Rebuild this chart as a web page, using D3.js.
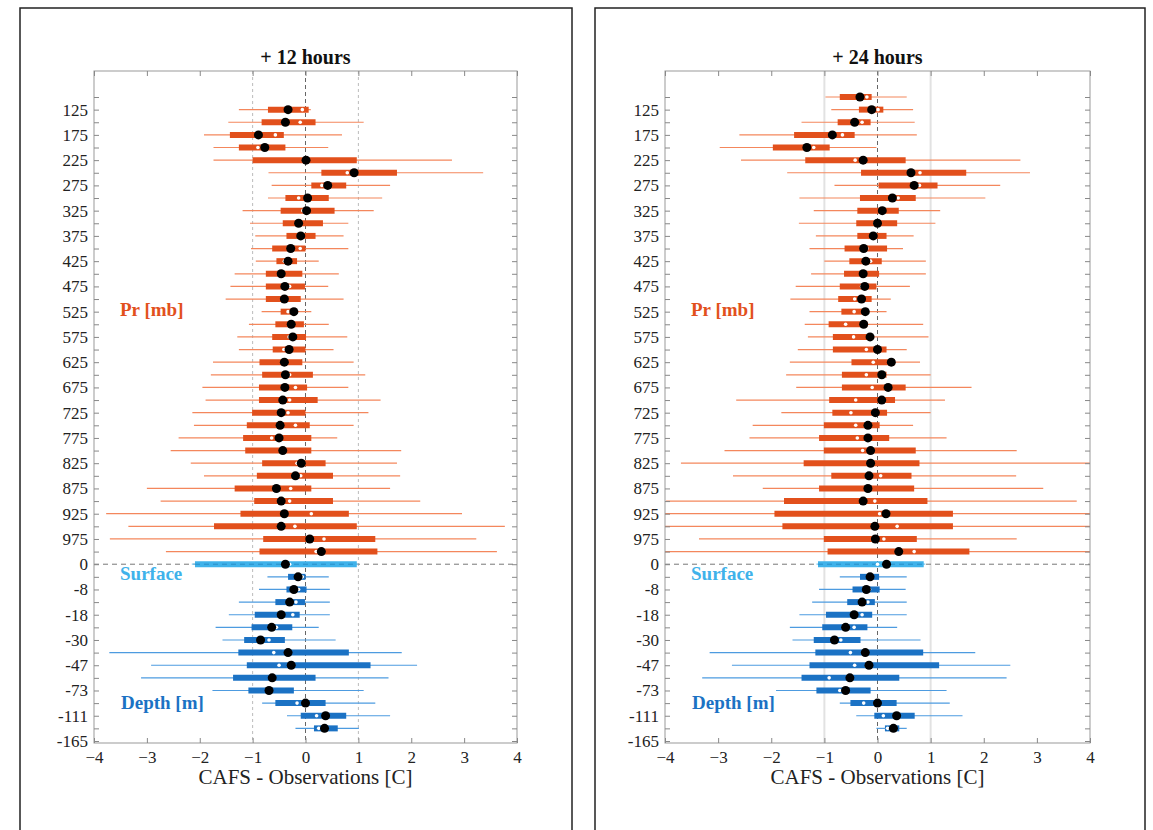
<!DOCTYPE html>
<html>
<head>
<meta charset="utf-8">
<script src="https://cdn.jsdelivr.net/npm/d3@7"></script>
<style>
  body { margin: 0; background: #fff; }
  svg text { font-family: "Liberation Serif", "Times New Roman", Times, "DejaVu Serif", serif !important; }
</style>
</head>
<body>
<div id="chart"></div>
<script>
// levels, top to bottom: pressure (mb), surface, depth (m)
const levels = ["100","125","150","175","200","225","250","275","300","325","350","375","400",
  "425","450","475","500","525","550","575","600","625","650","675","700","725","750","775",
  "800","825","850","875","900","925","950","975","1000",
  "0","-3","-8","-13","-18","-24","-30","-38","-47","-58","-73","-90","-111","-135","-165"];
const groups = levels.map((d, i) => i < 37 ? "pr" : (i === 37 ? "surf" : "depth"));

// + 12 hours: whisker low/high, box low/high, black dot, white dot
const h12Lo  = [null,-1.26,-1.46,-1.92,-1.74,-1.74,-0.70,-0.64,-0.71,-1.19,-1.05,-0.95,-1.03,-0.94,-1.34,-1.42,-1.51,-0.83,-1.07,-1.29,-1.26,-1.75,-1.79,-1.95,-1.89,-2.14,-2.11,-2.40,-2.55,-2.17,-1.92,-3.00,-2.74,-3.77,-3.35,-3.70,-2.64,-2.15,-0.72,-0.88,-1.26,-1.45,-1.70,-1.57,-3.71,-2.92,-3.11,-1.76,-0.82,-0.35,-0.19,null];
const h12Q1  = [null,-0.71,-0.83,-1.43,-1.26,-1.00,0.30,0.11,-0.38,-0.47,-0.43,-0.36,-0.63,-0.55,-0.75,-0.75,-0.75,-0.47,-0.57,-0.63,-0.62,-0.87,-0.82,-0.88,-0.88,-1.01,-1.11,-1.18,-1.14,-0.82,-0.92,-1.34,-0.97,-1.23,-1.73,-0.80,-0.87,-2.09,-0.33,-0.36,-0.57,-0.96,-1.02,-1.16,-1.27,-1.11,-1.37,-1.08,-0.57,-0.09,0.16,null];
const h12Q3  = [null,0.06,0.19,-0.41,-0.38,0.97,1.73,0.77,0.44,0.55,0.33,0.19,0.00,-0.16,-0.06,-0.01,-0.09,-0.16,-0.03,0.01,0.00,-0.06,0.14,0.03,0.23,0.00,0.08,0.11,0.11,0.38,0.52,0.11,0.52,0.82,0.97,1.32,1.36,0.97,0.00,0.02,-0.01,-0.11,-0.25,-0.39,0.82,1.23,0.19,-0.22,0.38,0.77,0.61,null];
const h12Hi  = [null,0.10,1.10,0.69,0.43,2.77,3.36,1.60,1.45,1.29,0.81,0.72,0.81,0.25,0.63,0.43,0.72,0.11,0.44,0.79,0.53,0.91,1.13,0.81,1.42,1.19,0.91,0.60,1.81,1.73,1.79,1.60,2.17,2.96,3.77,3.23,3.62,1.00,0.44,0.46,0.46,0.46,0.25,0.57,1.82,2.11,1.57,1.10,1.32,1.60,1.01,null];
const h12Dot = [null,-0.33,-0.38,-0.89,-0.77,0.01,0.92,0.42,0.04,0.02,-0.13,-0.09,-0.28,-0.33,-0.46,-0.39,-0.40,-0.22,-0.27,-0.24,-0.31,-0.40,-0.38,-0.39,-0.43,-0.46,-0.48,-0.50,-0.43,-0.08,-0.19,-0.55,-0.46,-0.40,-0.46,0.08,0.30,-0.38,-0.14,-0.22,-0.30,-0.46,-0.64,-0.85,-0.33,-0.27,-0.63,-0.69,0.00,0.38,0.36,null];
const h12Mid = [null,-0.06,-0.10,-0.57,-0.90,0.00,0.79,0.31,-0.13,-0.05,-0.10,-0.12,-0.10,-0.40,-0.50,-0.30,-0.40,-0.33,-0.30,-0.31,-0.41,-0.40,-0.30,-0.19,-0.30,-0.33,-0.19,-0.64,-0.40,-0.16,-0.09,-0.28,-0.30,0.11,-0.20,0.35,0.20,-0.30,-0.06,-0.13,-0.18,-0.24,-0.55,-0.69,-0.60,-0.50,-0.60,-0.70,-0.16,0.21,0.25,null];

// + 24 hours
const h24Lo  = [-0.98,-0.87,-1.43,-2.60,-2.97,-2.57,-1.70,-0.81,-1.47,-1.20,-1.48,-1.16,-1.28,-1.00,-1.25,-1.54,-1.64,-1.28,-1.37,-1.31,-1.50,-1.65,-1.72,-1.53,-2.66,-1.81,-2.35,-2.41,-2.88,-3.70,-2.72,-2.16,-3.98,-4.2,-4.2,-3.36,-4.2,-1.15,-0.71,-1.10,-1.23,-1.47,-1.65,-1.60,-3.16,-2.74,-3.30,-1.91,-0.71,-0.40,-0.02,null];
const h24Q1  = [-0.71,-0.35,-0.75,-1.57,-1.97,-1.36,-0.31,0.02,-0.33,-0.38,-0.40,-0.38,-0.62,-0.53,-0.63,-0.71,-0.74,-0.68,-0.92,-0.84,-0.84,-0.49,-0.67,-0.67,-0.91,-0.85,-1.01,-1.10,-1.01,-1.39,-0.87,-1.10,-1.76,-1.94,-1.79,-1.01,-0.94,-1.12,-0.33,-0.47,-0.57,-0.97,-1.04,-1.20,-1.17,-1.28,-1.43,-1.15,-0.51,-0.06,0.14,null];
const h24Q3  = [-0.11,0.11,-0.13,-0.43,-0.90,0.53,1.67,1.13,0.72,0.40,0.37,0.17,0.18,0.08,0.03,-0.02,-0.11,-0.18,-0.19,-0.13,0.17,0.33,0.17,0.53,0.33,0.18,0.04,0.22,0.72,0.79,0.64,0.69,0.94,1.42,1.42,0.74,1.73,0.87,0.03,0.04,-0.05,-0.10,-0.19,-0.32,0.86,1.16,0.41,-0.13,0.36,0.70,0.41,null];
const h24Hi  = [0.55,0.67,0.70,0.74,-0.02,2.69,2.87,2.31,2.03,1.18,1.09,0.68,0.48,0.91,0.91,0.61,0.25,0.17,0.86,0.96,0.55,0.80,1.00,1.77,1.27,1.00,0.67,1.30,2.62,4.2,2.61,3.12,3.75,4.2,4.2,2.62,4.2,0.90,0.55,0.53,0.55,0.55,0.37,0.81,1.84,2.50,2.43,1.30,1.36,1.60,0.55,null];
const h24Dot = [-0.33,-0.11,-0.43,-0.85,-1.33,-0.27,0.63,0.69,0.28,0.09,0.00,-0.08,-0.26,-0.22,-0.27,-0.24,-0.30,-0.23,-0.26,-0.14,0.00,0.26,0.08,0.20,0.08,-0.04,-0.18,-0.18,-0.13,-0.13,-0.16,-0.18,-0.27,0.16,-0.05,-0.04,0.40,0.17,-0.14,-0.21,-0.29,-0.44,-0.60,-0.81,-0.23,-0.16,-0.52,-0.60,0.00,0.36,0.30,null];
const h24Mid = [-0.20,0.01,-0.29,-0.66,-1.20,-0.42,0.80,0.79,0.39,0.05,-0.05,-0.10,-0.20,-0.13,-0.30,-0.30,-0.43,-0.44,-0.60,-0.45,-0.21,-0.08,-0.21,-0.10,-0.41,-0.50,-0.41,-0.38,-0.28,-0.10,0.06,-0.15,-0.05,0.04,0.37,0.12,0.69,0.00,-0.10,-0.15,-0.18,-0.29,-0.44,-0.69,-0.51,-0.43,-0.91,-0.71,-0.26,0.11,0.19,null];

const xTicks = [-4,-3,-2,-1,0,1,2,3,4];

const barColor  = {pr: "#e2501c", surf: "#3fb2ea", depth: "#1b72c4"};
const lineColor = {pr: "#f4875c", surf: "#7cc8ef", depth: "#4d9be0"};

const svg = d3.select("#chart").append("svg")
  .attr("width", 1153).attr("height", 830);

const panels = [
  {title: "+ 12 hours", frameX: 20, frameW: 552, left: 94, right: 517, solidGrid: false,
   lo: h12Lo, q1: h12Q1, q3: h12Q3, hi: h12Hi, dot: h12Dot, mid: h12Mid},
  {title: "+ 24 hours", frameX: 595, frameW: 550, left: 665, right: 1090, solidGrid: true,
   lo: h24Lo, q1: h24Q1, q3: h24Q3, hi: h24Hi, dot: h24Dot, mid: h24Mid}
];

const plotTop = 71, plotBottom = 743;

panels.forEach(function(p, pi) {
  // outer frame
  svg.append("rect")
    .attr("x", p.frameX).attr("y", 8)
    .attr("width", p.frameW).attr("height", 900)
    .attr("fill", "none").attr("stroke", "#222").attr("stroke-width", 1.5);

  const x = d3.scaleLinear().domain([-4, 4]).range([p.left, p.right]);
  const y = d3.scalePoint().domain(levels).range([97, 741]);

  const g = svg.append("g");

  svg.append("clipPath").attr("id", "clip" + pi)
    .append("rect").attr("x", p.left).attr("y", plotTop)
    .attr("width", p.right - p.left).attr("height", plotBottom - plotTop);

  // grid lines at -1 and 1
  g.selectAll(".grid").data([-1, 1]).join("line")
    .attr("x1", d => x(d)).attr("x2", d => x(d))
    .attr("y1", plotTop).attr("y2", plotBottom)
    .attr("stroke", p.solidGrid ? "#e2e2e2" : "#bbb")
    .attr("stroke-width", p.solidGrid ? 2 : 1)
    .attr("stroke-dasharray", p.solidGrid ? null : "3,3");

  // zero line
  g.append("line")
    .attr("x1", x(0)).attr("x2", x(0)).attr("y1", plotTop).attr("y2", plotBottom)
    .attr("stroke", "#666").attr("stroke-width", 1).attr("stroke-dasharray", "4,3");

  // surface line
  g.append("line")
    .attr("x1", p.left).attr("x2", p.right).attr("y1", y("0")).attr("y2", y("0"))
    .attr("stroke", "#777").attr("stroke-width", 1).attr("stroke-dasharray", "5,4");

  const rows = levels.map((lv, i) => ({
    lv: lv, grp: groups[i], lo: p.lo[i], q1: p.q1[i], q3: p.q3[i],
    hi: p.hi[i], dot: p.dot[i], mid: p.mid[i]
  })).filter(d => d.lo !== null);

  const marks = g.append("g").attr("clip-path", "url(#clip" + pi + ")");

  // whiskers
  marks.selectAll(".whisk").data(rows).join("line")
    .attr("x1", d => x(d.lo)).attr("x2", d => x(d.hi))
    .attr("y1", d => y(d.lv)).attr("y2", d => y(d.lv))
    .attr("stroke", d => lineColor[d.grp]).attr("stroke-width", 1.2);

  // boxes
  marks.selectAll(".box").data(rows).join("line")
    .attr("x1", d => x(d.q1)).attr("x2", d => x(d.q3))
    .attr("y1", d => y(d.lv)).attr("y2", d => y(d.lv))
    .attr("stroke", d => barColor[d.grp]).attr("stroke-width", 6);

  // surface dash over bar
  marks.append("line")
    .attr("x1", x(p.q1[37])).attr("x2", x(p.q3[37]))
    .attr("y1", y("0")).attr("y2", y("0"))
    .attr("stroke", "#2a8fc8").attr("stroke-width", 1).attr("stroke-dasharray", "5,4");

  // white dots
  marks.selectAll(".mid").data(rows).join("circle")
    .attr("cx", d => x(d.mid)).attr("cy", d => y(d.lv)).attr("r", 1.8)
    .attr("fill", "#fff");

  // black dots
  marks.selectAll(".dot").data(rows).join("circle")
    .attr("cx", d => x(d.dot)).attr("cy", d => y(d.lv)).attr("r", 4.5)
    .attr("fill", "#000");

  // plot box
  g.append("rect")
    .attr("x", p.left).attr("y", plotTop)
    .attr("width", p.right - p.left).attr("height", plotBottom - plotTop)
    .attr("fill", "none").attr("stroke", "#999").attr("stroke-width", 1);

  const yLabel = d => (levels.indexOf(d) % 2 === 1) ? d : "";

  const axL = g.append("g").attr("transform", `translate(${p.left},0)`)
    .call(d3.axisLeft(y).tickSize(-5).tickPadding(6).tickFormat(yLabel));
  const axR = g.append("g").attr("transform", `translate(${p.right},0)`)
    .call(d3.axisRight(y).tickSize(-5).tickFormat(""));
  const axT = g.append("g").attr("transform", `translate(0,${plotTop})`)
    .call(d3.axisTop(x).tickValues(xTicks).tickSize(-5).tickFormat(""));
  const axB = g.append("g").attr("transform", `translate(0,${plotBottom})`)
    .call(d3.axisBottom(x).tickValues(xTicks).tickSize(-5).tickPadding(8).tickFormat(d3.format("d")));

  [axL, axR, axT, axB].forEach(function(a) {
    a.attr("font-family", null);
    a.select(".domain").remove();
    a.selectAll(".tick line").attr("stroke", "#888");
    a.selectAll("text").attr("font-size", 17).attr("fill", "#222");
  });

  // titles
  g.append("text").attr("x", (p.left + p.right) / 2).attr("y", 64)
    .attr("text-anchor", "middle").attr("font-weight", "bold").attr("font-size", 20)
    .attr("fill", "#111").text(p.title);

  g.append("text").attr("x", (p.left + p.right) / 2).attr("y", 784)
    .attr("text-anchor", "middle").attr("font-size", 21)
    .attr("fill", "#222").text("CAFS - Observations [C]");

  // group labels
  const lx = p.left + 26;
  g.append("text").attr("x", lx).attr("y", 316).attr("font-weight", "bold").attr("font-size", 19)
    .attr("fill", barColor.pr).text("Pr [mb]");
  g.append("text").attr("x", lx).attr("y", 580).attr("font-weight", "bold").attr("font-size", 19)
    .attr("fill", barColor.surf).text("Surface");
  g.append("text").attr("x", lx + 1).attr("y", 709).attr("font-weight", "bold").attr("font-size", 19)
    .attr("fill", barColor.depth).text("Depth [m]");
});
</script>
</body>
</html>
